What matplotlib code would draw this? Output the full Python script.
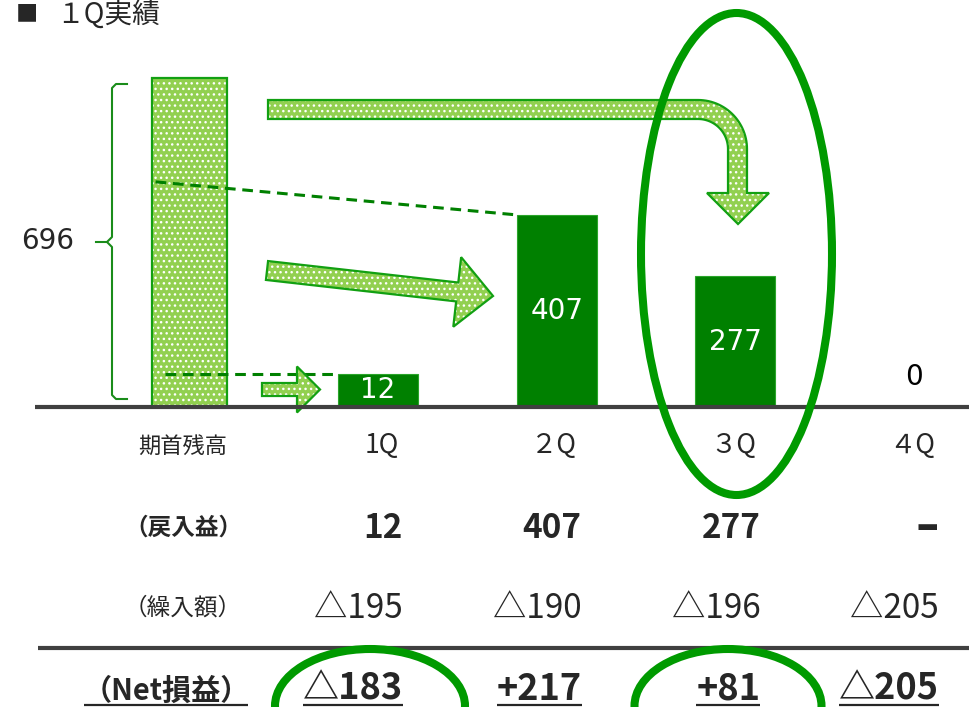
import numpy as np
import matplotlib
matplotlib.use('Agg')
import matplotlib.pyplot as plt
from matplotlib.patches import Polygon, Ellipse

plt.rcParams['font.family'] = ['Noto Sans CJK JP', 'DejaVu Sans']
plt.rcParams['hatch.linewidth'] = 1.0

# ---------------- data ----------------
title = '１Q実績'
opening_label = '期首残高'
opening_balance = 696
quarters = ['1Q', '２Q', '３Q', '４Q']
reversal_gain = [12, 407, 277, 0]      # 戻入益
provision = [195, 190, 196, 205]       # 繰入額 (shown with △)
row_labels = ['（戻入益）', '（繰入額）', '（Net損益）']

# ---------------- style ----------------
DARK = '#008000'
LIGHT = '#92d050'
EDGE = '#12a012'
RING = '#009a00'
AXIS = '#404040'
TEXT = '#262626'
HATCH = '...'

fig = plt.figure(figsize=(9.69, 7.07), dpi=100)
ax = fig.add_axes([0, 0, 1, 1])
ax.set_axis_off()

SX = 178.67            # px per category unit
X0 = 1 - 378 / SX
SY = 0.472             # px per value unit
BASE = 407             # baseline pixel row


def xd(p):
    return X0 + p / SX


def yd(p):
    return (BASE - p) / SY


def P(pts):
    return [(xd(x), yd(y)) for x, y in pts]


ax.set_xlim(xd(0), xd(969))
ax.set_ylim(yd(707), yd(0))

MIN_SHOW = 70
q_pos = np.arange(1, len(quarters) + 1)
init_pos = xd(189.5)
shown = [max(v, MIN_SHOW) if v > 0 else 0 for v in reversal_gain]
BW = 80 / SX
IW = 75 / SX


def pattern_patch(verts, z=2):
    ax.add_patch(Polygon(verts, closed=True, facecolor=LIGHT, edgecolor='white',
                         hatch=HATCH, linewidth=0, zorder=z))
    ax.add_patch(Polygon(verts, closed=True, fill=False, edgecolor=EDGE,
                         linewidth=1.6, zorder=z + 0.1, joinstyle='miter'))


# opening balance bar (patterned)
ax.bar(init_pos, opening_balance, width=IW, color=LIGHT, edgecolor='white',
       hatch=HATCH, linewidth=0, zorder=2)
ax.bar(init_pos, opening_balance, width=IW, fill=False, edgecolor=EDGE,
       linewidth=1.6, zorder=3)

# quarter bars
ax.bar(q_pos, shown, width=BW, color=DARK, edgecolor='#2aa52a', linewidth=0.8, zorder=3)
for x, v, s in zip(q_pos, reversal_gain, shown):
    if v > 0:
        ax.text(x, s / 2, f'{v}', color='white', ha='center', va='center',
                fontsize=20, family='DejaVu Sans', zorder=4)
    else:
        ax.text(x, yd(377), f'{v}', color='black', ha='center', va='center',
                fontsize=20, family='DejaVu Sans', zorder=4)

# baseline
ax.plot([xd(35), xd(969)], [0, 0], color=AXIS, lw=3, solid_capstyle='butt', zorder=5)

# dashed connectors
left = init_pos - IW / 2
ax.plot([left + 0.02, q_pos[1] - BW / 2], [shown[0] + shown[1], shown[1]],
        color=DARK, lw=2.2, dashes=(3.5, 2.2), zorder=4)
ax.plot([left + 0.07, q_pos[0] - BW / 2], [shown[0], shown[0]],
        color=DARK, lw=2.2, dashes=(3.5, 2.2), zorder=4)

# brace + 696 label
brace = [(127, 84), (116, 84), (112, 88), (112, 237), (107, 242), (112, 247),
         (112, 395), (116, 399), (127, 399)]
bx, by = zip(*P(brace))
ax.plot(bx, by, color='#1a8c1a', lw=1.5, zorder=4)
tx, ty = zip(*P([(96, 242), (107, 242)]))
ax.plot(tx, ty, color='#1a8c1a', lw=1.5, zorder=4)
ax.text(xd(74), yd(241), f'{opening_balance}', ha='right', va='center',
        fontsize=20, family='DejaVu Sans', color=TEXT)


# arrows
def straight_arrow(x0, y0, x1, y1, sh, hh, hl):
    p0 = np.array([x0, y0], float)
    p1 = np.array([x1, y1], float)
    d = p1 - p0
    L = np.hypot(*d)
    u = d / L
    n = np.array([-u[1], u[0]])
    pb = p0 + u * (L - hl)
    pts = [p0 + n * sh, pb + n * sh, pb + n * hh, p1, pb - n * hh, pb - n * sh, p0 - n * sh]
    return P([tuple(p) for p in pts])


pattern_patch(straight_arrow(262, 389.5, 320, 389.5, 6.5, 23, 23), z=4)
pattern_patch(straight_arrow(267, 270.5, 493, 296, 9.5, 35, 36), z=4)

# curved arrow
C = (698, 149)
Ro, Ri = 49, 30
th = np.linspace(0, np.pi / 2, 30)
outer = [(C[0] + Ro * np.sin(t), C[1] - Ro * np.cos(t)) for t in th]
inner = [(C[0] + Ri * np.sin(t), C[1] - Ri * np.cos(t)) for t in th[::-1]]
curve = [(268, 100)] + outer + [(747, 193), (769, 193), (738, 224), (707, 193), (728, 193)] \
    + inner + [(268, 119)]
pattern_patch(P(curve), z=4)

# ellipses
ax.add_patch(Ellipse((xd(736.5), yd(254)), 191 / SX, 482 / SY, fill=False,
                     edgecolor=RING, lw=5.8, zorder=6))
ax.add_patch(Ellipse((xd(370), yd(706)), 190 / SX, 114 / SY, fill=False,
                     edgecolor=RING, lw=5.8, zorder=6))
ax.add_patch(Ellipse((xd(728), yd(706)), 187 / SX, 114 / SY, fill=False,
                     edgecolor=RING, lw=5.8, zorder=6))

# title
ax.text(xd(16), yd(14), '■', ha='left', va='center', fontsize=16, color=TEXT)
ax.text(xd(56), yd(15), title, ha='left', va='center', fontsize=20, color=TEXT)

# table
LX = xd(183)
ax.text(LX, yd(446), opening_label, ha='center', va='center', fontsize=16, color=TEXT)
for x, q in zip(q_pos, quarters):
    ax.text(x + 0.115, yd(446), q, ha='right', va='center', fontsize=19, color=TEXT)

ax.text(LX, yd(528), row_labels[0], ha='center', va='center', fontsize=17,
        fontweight='bold', color=TEXT)
for x, v in zip(q_pos, reversal_gain):
    if v > 0:
        ax.text(x + 0.14, yd(528), f'{v}', ha='right', va='center', fontsize=24,
                fontweight='bold', color=TEXT)
    else:
        ax.text(x + 0.14, yd(528), '–', ha='right', va='center', fontsize=34,
                fontweight='bold', color=TEXT, family='DejaVu Sans')

ax.text(LX, yd(608), row_labels[1], ha='center', va='center', fontsize=17, color=TEXT)
for x, v in zip(q_pos, provision):
    ax.text(x + 0.14, yd(608), f'△{v}', ha='right', va='center', fontsize=24, color=TEXT)

ax.plot([xd(38), xd(969)], [yd(648), yd(648)], color=AXIS, lw=3,
        solid_capstyle='butt', zorder=5)

net_texts = []
t = ax.text(xd(166), yd(700), row_labels[2], ha='center', va='baseline', fontsize=21,
            fontweight='bold', color=TEXT)
net_texts.append(t)
for x, g, p in zip(q_pos, reversal_gain, provision):
    net = g - p
    s = f'+{net}' if net > 0 else f'△{-net}'
    t = ax.text(x + 0.14, yd(700), s, ha='right', va='baseline', fontsize=26,
                fontweight='bold', color=TEXT)
    net_texts.append(t)

fig.canvas.draw()
r = fig.canvas.get_renderer()
inv = ax.transData.inverted()
for i, t in enumerate(net_texts):
    bb = t.get_window_extent(r)
    pad = -2 if i == 0 else 0
    (xa, _), (xb, _) = inv.transform([(bb.x0 - pad, 0), (bb.x1 + pad, 0)])
    ax.plot([xa, xb], [yd(704.5), yd(704.5)], color=TEXT, lw=1.6,
            solid_capstyle='butt', zorder=5)

fig.savefig('out.png', dpi=100)
